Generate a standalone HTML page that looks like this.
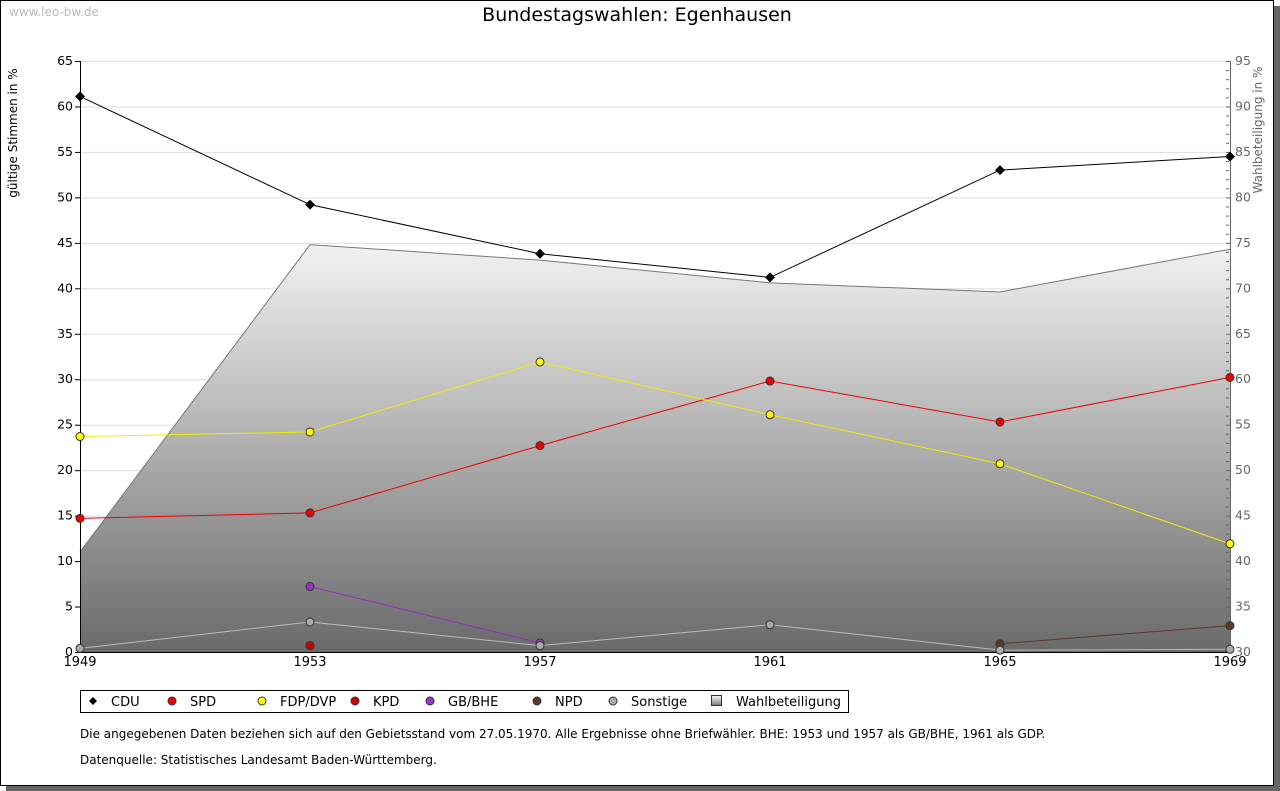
<!DOCTYPE html>
<html><head><meta charset="utf-8"><style>
body{margin:0;background:#fff;width:1280px;height:791px;overflow:hidden}
svg{display:block;font-family:"DejaVu Sans","Liberation Sans",sans-serif}
</style></head><body>
<svg id="c" width="1280" height="791">
<defs><linearGradient id="g" gradientUnits="userSpaceOnUse" x1="0" y1="61" x2="0" y2="652"><stop offset="0" stop-color="#ffffff"/><stop offset="0.3" stop-color="#f4f4f4"/><stop offset="1" stop-color="#6a6a6a"/></linearGradient>
<linearGradient id="lg" x1="0" y1="0" x2="0" y2="1"><stop offset="0" stop-color="#fff"/><stop offset="1" stop-color="#777"/></linearGradient></defs>
<rect x="6" y="6" width="1274" height="785" fill="#666"/>
<rect x="0.5" y="0.5" width="1273" height="785" fill="#fff" stroke="#000"/>
<text x="9" y="16" font-size="12" fill="#bbb">www.leo-bw.de</text>
<text x="637" y="21" font-size="19" text-anchor="middle">Bundestagswahlen: Egenhausen</text>
<text transform="translate(17,133) rotate(-90)" font-size="12" text-anchor="middle">gültige Stimmen in %</text>
<text transform="translate(1262,130) rotate(-90)" font-size="12" fill="#666" text-anchor="middle">Wahlbeteiligung in %</text>
<g id="grid"></g><g id="area"></g><g id="axes"></g><g id="series"></g>
<rect x="80.5" y="690.5" width="768" height="22" fill="#fff" stroke="#000"/>
<g id="legend"></g>
<text x="80" y="738" font-size="12">Die angegebenen Daten beziehen sich auf den Gebietsstand vom 27.05.1970. Alle Ergebnisse ohne Briefwähler. BHE: 1953 und 1957 als GB/BHE, 1961 als GDP.</text>
<text x="80" y="764" font-size="12">Datenquelle: Statistisches Landesamt Baden-Württemberg.</text>
</svg>
<script>
const years=["1949","1953","1957","1961","1965","1969"];
const cdu=[61.1,49.2,43.8,41.2,53.0,54.5];
const spd=[14.7,15.3,22.7,29.8,25.3,30.2];
const fdp=[23.7,24.2,31.9,26.1,20.7,11.9];
const kpd=[null,0.7,null,null,null,null];
const bhe=[null,7.2,1.0,null,null,null];
const npd=[null,null,null,null,0.9,2.9];
const sonst=[0.4,3.3,0.7,3.0,0.2,0.3];
const turnout=[41.0,74.8,73.1,70.6,69.6,74.3];
const leftTicks=[0,5,10,15,20,25,30,35,40,45,50,55,60,65];
const rightTicks=[30,35,40,45,50,55,60,65,70,75,80,85,90,95];
const NS="http://www.w3.org/2000/svg";
const X0=80,X1=1230,Y0=652,Y1=61;
const x=i=>X0+(X1-X0)*i/(years.length-1);
const y=v=>Y0-(Y0-Y1)*v/65;
const y2=v=>Y0-(Y0-Y1)*(v-30)/65;
function mk(p,t,a){const e=document.createElementNS(NS,t);for(const k in a)e.setAttribute(k,a[k]);document.getElementById(p).appendChild(e);return e;}
leftTicks.forEach(v=>{
 if(v>0){const l=mk('grid','line',{x1:X0,x2:X1,y1:y(v)+.5,y2:y(v)+.5,stroke:'#ddd'});
 
 }
 const t=mk('axes','text',{x:73,y:y(v)+4,'font-size':12.5,'text-anchor':'end'});t.textContent=v;
 
 
 mk('axes','line',{x1:75,x2:80,y1:y(v)+.5,y2:y(v)+.5,stroke:'#000'});
});
for(let v=30;v<=95;v++){mk('axes','line',{x1:1226,x2:v%5?1229:1231,y1:y2(v)+.5,y2:y2(v)+.5,stroke:'#666'});}
rightTicks.forEach(v=>{const t=mk('axes','text',{x:1235,y:y2(v)+4,'font-size':12.5,fill:'#666'});t.textContent=v;
 
 });
let d='M'+X0+','+Y0;turnout.forEach((v,i)=>d+=' L'+x(i)+','+y2(v));d+=' L'+X1+','+Y0+' Z';
const ar=mk('area','path',{d:d,fill:'url(#g)'});


let d2='';turnout.forEach((v,i)=>d2+=(i?' L':'M')+x(i)+','+y2(v));
mk('area','path',{d:d2,fill:'none',stroke:'#777'});
mk('axes','line',{x1:X0+.5,x2:X0+.5,y1:Y1,y2:Y0,stroke:'#000'});
mk('axes','line',{x1:X1+.5,x2:X1+.5,y1:Y1,y2:Y0,stroke:'#666'});
mk('axes','line',{x1:X0,x2:X1,y1:Y0+.5,y2:Y0+.5,stroke:'#000'});
years.forEach((yr,i)=>{const t=mk('axes','text',{x:x(i),y:666,'font-size':13,'text-anchor':'middle'});t.textContent=yr;
 
 });
const series=[["CDU",cdu,"#000","#000",true],["SPD",spd,"#e00","#e00",false],["FDP/DVP",fdp,"#ee0","#ff0",false],["KPD",kpd,"#b00","#c00",false],["GB/BHE",bhe,"#9030c0","#9933cc",false],["NPD",npd,"#5a3a2a","#5a3a2a",false],["Sonstige",sonst,"#bbb","#aaa",false]];
series.forEach(([n,data,lc,fc,dia])=>{
 let p='';data.forEach((v,i)=>{if(v==null)return;p+=(p&&data[i-1]!=null?' L':' M')+x(i)+','+y(v);});
 const l=mk('series','path',{d:p,fill:'none',stroke:lc});
 
 
 data.forEach((v,i)=>{if(v==null)return;
  const c=dia?mk('series','path',{d:`M${x(i)-5},${y(v)} L${x(i)},${y(v)-5} L${x(i)+5},${y(v)} L${x(i)},${y(v)+5}Z`,fill:'#000'}):mk('series','circle',{cx:x(i),cy:y(v),r:4,fill:fc,stroke:'#333'});
  
  });
});
const lx=[93,172,262,355,430,537,613,716];
series.forEach(([n,,,fc,dia],k)=>{
 const cx=lx[k],cy=701;
 const m=dia?mk('legend','path',{d:`M${cx-4},${cy} L${cx},${cy-4} L${cx+4},${cy} L${cx},${cy+4}Z`,fill:'#000'}):mk('legend','circle',{cx:cx,cy:cy,r:4,fill:fc,stroke:'#333'});
 
 
 const t=mk('legend','text',{x:cx+18,y:706,'font-size':13});t.textContent=n;
 
 
});
mk('legend','rect',{x:711.5,y:695.5,width:10,height:10,fill:'url(#lg)',stroke:'#333'});
const tt=mk('legend','text',{x:736,y:706,'font-size':13});tt.textContent='Wahlbeteiligung';


</script>
</body></html>
